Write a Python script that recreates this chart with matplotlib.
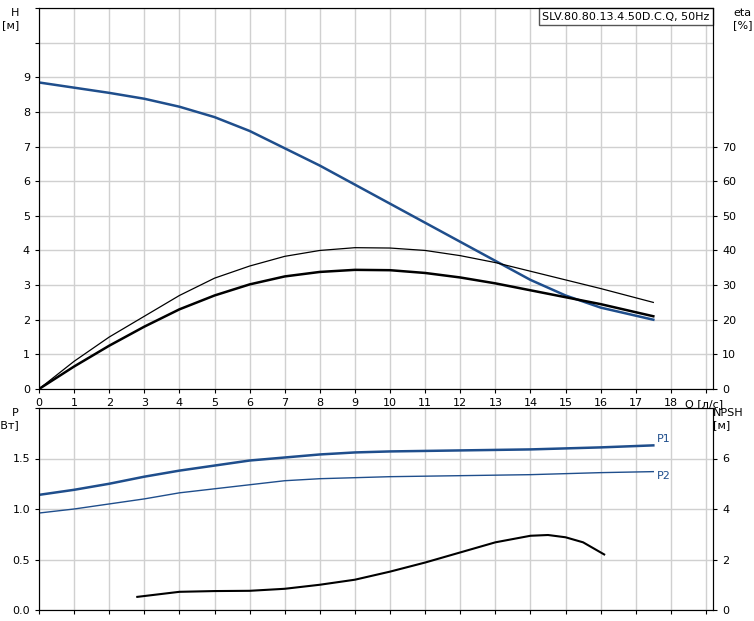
import matplotlib
matplotlib.use("Agg")
import matplotlib.pyplot as plt

q_h = [0, 1, 2, 3, 4, 5, 6, 7, 8, 9, 10, 11, 12, 13, 14, 15, 16, 17.5]
head = [8.85, 8.7, 8.55, 8.38, 8.15, 7.85, 7.45, 6.95, 6.45, 5.9, 5.35, 4.8, 4.25, 3.7, 3.15, 2.7, 2.35, 2.0]
eta_thin = [0, 8, 15, 21, 27, 32, 35.5, 38.3, 40, 40.8, 40.7, 40, 38.5, 36.5, 34, 31.5, 29, 25]
eta_thick = [0, 6.5, 12.5, 18, 23, 27, 30.2, 32.5, 33.8, 34.4, 34.3, 33.5, 32.2, 30.5, 28.5, 26.5, 24.5, 21]
q_p = [0, 1, 2, 3, 4, 5, 6, 7, 8, 9, 10, 12, 14, 16, 17.5]
p1 = [1.14, 1.19, 1.25, 1.32, 1.38, 1.43, 1.48, 1.51, 1.54, 1.56, 1.57, 1.58, 1.59, 1.61, 1.63]
p2 = [0.96, 1.0, 1.05, 1.10, 1.16, 1.2, 1.24, 1.28, 1.30, 1.31, 1.32, 1.33, 1.34, 1.36, 1.37]
q_n = [2.8, 4, 5, 6, 7, 8, 9, 10, 11, 12, 13, 14, 14.5, 15, 15.5, 16.1]
npsh = [0.52, 0.72, 0.75, 0.76, 0.84, 1.0, 1.2, 1.52, 1.88, 2.28, 2.68, 2.94, 2.97, 2.88, 2.68, 2.2]

blue = "#1f4e8c"
grid = "#d0d0d0"
fig = plt.figure(figsize=(7.54, 6.21), dpi=100)
W, H = 754, 621
ax = fig.add_axes([39/W, 1-389/H, (713-39)/W, (389-8)/H])
bx = fig.add_axes([39/W, 1-610/H, (713-39)/W, (610-408)/H])
for a in (ax, bx):
    a.set_xlim(0, 19.2)
    a.set_xticks(range(0, 20))
    a.grid(True, color=grid, lw=1)
    a.tick_params(labelsize=8, length=3)
    for s in a.spines.values():
        s.set_color("#444")
ax.set_ylim(0, 11)
ax.set_yticks(range(0, 12))
ax.set_yticklabels([str(i) for i in range(10)] + ["", ""])
ax.set_xticklabels([str(i) for i in range(19)] + [""])
ax.text(18.4, -0.45, "Q [л/с]", fontsize=8, ha="left", va="center")
ax.plot(q_h, head, color=blue, lw=1.8)
ax.plot(q_h, [e / 10 for e in eta_thin], color="black", lw=0.9)
ax.plot(q_h, [e / 10 for e in eta_thick], color="black", lw=1.8)
ax2 = ax.twinx()
ax2.set_ylim(0, 110)
ax2.set_yticks(range(0, 80, 10))
ax2.tick_params(labelsize=8, length=3)
ax.text(-0.03, 1.0, "H\n[м]", transform=ax.transAxes, ha="right", va="top", fontsize=8)
ax.text(1.03, 1.0, "eta\n[%]", transform=ax.transAxes, ha="left", va="top", fontsize=8)
ax.text(0.995, 0.99, "SLV.80.80.13.4.50D.C.Q, 50Hz", transform=ax.transAxes, ha="right", va="top",
        fontsize=8, bbox=dict(boxstyle="square,pad=0.3", fc="white", ec="#555"))

bx.set_ylim(0, 2)
bx.set_yticks([0, 0.5, 1.0, 1.5, 2.0])
bx.set_yticklabels(["0.0", "0.5", "1.0", "1.5", ""])
bx.set_xticklabels([])
bx.plot(q_p, p1, color=blue, lw=1.8)
bx.plot(q_p, p2, color=blue, lw=1.0)
bx.text(17.6, 1.66, "P1", color=blue, fontsize=8)
bx.text(17.6, 1.30, "P2", color=blue, fontsize=8)
bx2 = bx.twinx()
bx2.set_ylim(0, 8)
bx2.set_yticks([0, 2, 4, 6])
bx2.tick_params(labelsize=8, length=3)
bx2.plot(q_n, npsh, color="black", lw=1.5)
bx.text(-0.03, 1.0, "P\n[кВт]", transform=bx.transAxes, ha="right", va="top", fontsize=8)
bx.text(1.0, 1.0, "NPSH\n[м]", transform=bx.transAxes, ha="left", va="top", fontsize=8)
fig.savefig("out.png", dpi=100)
